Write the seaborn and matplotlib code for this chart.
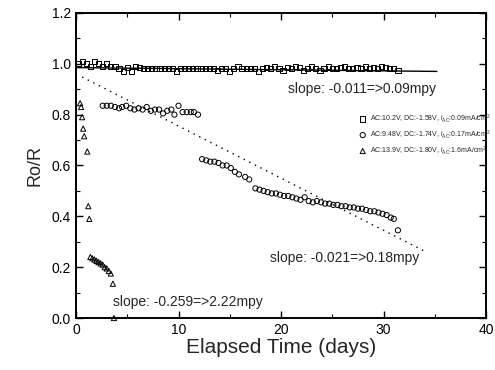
import numpy as np
import pandas as pd
import matplotlib
matplotlib.use("Agg")
import matplotlib.pyplot as plt
from matplotlib import font_manager
from matplotlib.ticker import MultipleLocator, FormatStrFormatter
import seaborn as sns

# ---------------- data ----------------
sq_days = [0.2, 0.6, 1.0, 1.4, 1.8, 2.2, 2.6, 3.0,
           3.4, 3.8, 4.2, 4.6, 5.0, 5.4, 5.8, 6.2,
           6.6, 7.0, 7.4, 7.8, 8.2, 8.6, 9.0, 9.4,
           9.8, 10.2, 10.6, 11.0, 11.4, 11.8, 12.2, 12.6,
           13.0, 13.4, 13.8, 14.2, 14.6, 15.0, 15.4, 15.8,
           16.2, 16.6, 17.0, 17.4, 17.8, 18.2, 18.6, 19.0,
           19.4, 19.8, 20.2, 20.6, 21.0, 21.4, 21.8, 22.2,
           22.6, 23.0, 23.4, 23.8, 24.2, 24.6, 25.0, 25.4,
           25.8, 26.2, 26.6, 27.0, 27.4, 27.8, 28.2, 28.6,
           29.0, 29.4, 29.8, 30.2, 30.6, 31.0, 31.4]
sq_vals = [1.00, 1.01, 1.00, 0.99, 1.01, 1.00, 0.99, 1.00,
           0.99, 0.99, 0.98, 0.97, 0.985, 0.97, 0.99, 0.985,
           0.98, 0.98, 0.98, 0.98, 0.98, 0.98, 0.98, 0.98,
           0.97, 0.98, 0.98, 0.98, 0.98, 0.98, 0.98, 0.98,
           0.98, 0.98, 0.975, 0.98, 0.98, 0.97, 0.98, 0.99,
           0.98, 0.98, 0.98, 0.98, 0.97, 0.98, 0.985, 0.98,
           0.99, 0.98, 0.975, 0.985, 0.98, 0.99, 0.985, 0.975,
           0.98, 0.99, 0.98, 0.975, 0.98, 0.99, 0.98, 0.98,
           0.985, 0.99, 0.98, 0.98, 0.985, 0.98, 0.99, 0.98,
           0.985, 0.98, 0.99, 0.985, 0.98, 0.98, 0.975]

ci_days = [2.6, 3.0, 3.4, 3.8, 4.2, 4.5, 4.9, 5.3, 5.7, 6.1, 6.5, 6.9, 7.3,
           7.7, 8.1, 8.5, 8.9, 9.3, 9.6, 10.0, 10.4, 10.8, 11.2, 11.5, 11.9,
           12.3, 12.7, 13.1, 13.5, 13.9, 14.3, 14.7, 15.1, 15.5, 15.9, 16.5, 16.9,
           17.5, 17.9, 18.3, 18.7, 19.1, 19.5, 19.9, 20.3, 20.7, 21.1, 21.5, 21.9,
           22.3, 22.7, 23.1, 23.5, 23.9, 24.3, 24.7, 25.1, 25.5, 25.9, 26.3, 26.7,
           27.1, 27.5, 27.9, 28.3, 28.7, 29.1, 29.5, 29.9, 30.3, 30.7, 31.0, 31.4]
ci_vals = [0.835, 0.835, 0.835, 0.83, 0.825, 0.83, 0.835, 0.825, 0.82, 0.825, 0.82, 0.83, 0.815,
           0.82, 0.82, 0.805, 0.815, 0.82, 0.80, 0.835, 0.81, 0.81, 0.81, 0.81, 0.80,
           0.625, 0.62, 0.615, 0.615, 0.61, 0.60, 0.60, 0.59, 0.575, 0.565, 0.555, 0.545,
           0.51, 0.505, 0.50, 0.495, 0.49, 0.49, 0.485, 0.48, 0.48, 0.475, 0.47, 0.465,
           0.475, 0.46, 0.455, 0.46, 0.455, 0.45, 0.45, 0.445, 0.445, 0.44, 0.44, 0.435,
           0.435, 0.43, 0.43, 0.425, 0.42, 0.42, 0.415, 0.41, 0.405, 0.395, 0.39, 0.345]

tr_days = [0.4, 0.5, 0.6, 0.7, 0.8, 1.1, 1.2, 1.3,
           1.4, 1.6, 1.8, 2.0, 2.2, 2.4, 2.6, 2.8, 3.0, 3.2, 3.4,
           3.6, 3.7]
tr_vals = [0.845, 0.83, 0.79, 0.745, 0.715, 0.655, 0.44, 0.39,
           0.24, 0.235, 0.23, 0.225, 0.22, 0.215, 0.21, 0.20, 0.195, 0.185, 0.175,
           0.135, 0.0]

fit_sq_x = [0.0, 35.2]
fit_sq_y = [0.985, 0.970]
fit_ci_x = [0.6, 34.0]
fit_ci_y = [0.948, 0.263]

labels = [r"AC:10.2V, DC:-1.58V, $i_{AC}$:0.09mA/cm$^2$",
          r"AC:9.48V, DC:-1.74V, $i_{AC}$:0.17mA/cm$^2$",
          r"AC:13.9V, DC:-1.80V, $i_{AC}$:1.6mA/cm$^2$"]
slope_texts = ["slope: -0.011=>0.09mpy",
               "slope: -0.021=>0.18mpy",
               "slope: -0.259=>2.22mpy"]
slope_pos = [(20.7, 0.90), (18.9, 0.235), (3.6, 0.063)]

# ---------------- style ----------------
sns.set_style("ticks")
plt.rcParams['font.family'] = ['Liberation Sans', 'DejaVu Sans']

avail = {f.name for f in font_manager.fontManager.ttflist}
narrow = 'Liberation Sans'
leg_size = 5.0
for cand, sz in [('Liberation Sans Narrow', 6.0), ('DejaVu Sans Condensed', 5.4)]:
    if cand in avail:
        narrow, leg_size = cand, sz
        break
plt.rcParams['mathtext.fontset'] = 'custom'
plt.rcParams['mathtext.rm'] = narrow
plt.rcParams['mathtext.it'] = narrow

fig = plt.figure(figsize=(4.95, 3.7), dpi=100)
ax = fig.add_axes([0.1535, 0.1405, 0.8285, 0.8245])

sns.lineplot(x=fit_sq_x, y=fit_sq_y, color='black', lw=1.0, ax=ax)
sns.lineplot(x=fit_ci_x, y=fit_ci_y, color='black', lw=1.0,
             linestyle=(0, (1, 3.5)), ax=ax)

sns.scatterplot(x=sq_days, y=sq_vals, marker='s', s=14, facecolors='none',
                edgecolors='black', linewidths=0.7, label=labels[0], ax=ax,
                clip_on=False)
sns.scatterplot(x=ci_days, y=ci_vals, marker='o', s=14, facecolors='none',
                edgecolors='black', linewidths=0.7, label=labels[1], ax=ax,
                clip_on=False)
sns.scatterplot(x=tr_days, y=tr_vals, marker='^', s=14, facecolors='none',
                edgecolors='black', linewidths=0.7, label=labels[2], ax=ax,
                clip_on=False)

for t, (x, y) in zip(slope_texts, slope_pos):
    ax.text(x, y, t, fontsize=10, va='center', ha='left')

ax.set_xlim(0, 40)
ax.set_ylim(0, 1.2)
ax.xaxis.set_major_locator(MultipleLocator(10))
ax.xaxis.set_minor_locator(MultipleLocator(5))
ax.yaxis.set_major_locator(MultipleLocator(0.2))
ax.yaxis.set_minor_locator(MultipleLocator(0.1))
ax.yaxis.set_major_formatter(FormatStrFormatter('%.1f'))
ax.tick_params(which='both', direction='in', top=True, right=True,
               colors='black', labelsize=10)
ax.tick_params(which='major', length=5, width=1)
ax.tick_params(which='minor', length=3, width=0.8)
for sp in ax.spines.values():
    sp.set_linewidth(1.4)
    sp.set_color('black')

ax.set_xlabel("Elapsed Time (days)", fontsize=15, labelpad=1)
ax.set_ylabel("Ro/R", fontsize=13, labelpad=6)

ax.legend(loc='upper left', bbox_to_anchor=(0.689, 0.675), frameon=False,
          prop={'family': narrow, 'size': leg_size},
          handletextpad=0.5, labelspacing=0.5, borderaxespad=0,
          borderpad=0, handlelength=1.2, markerscale=1)

fig.savefig("out.png", dpi=100)
